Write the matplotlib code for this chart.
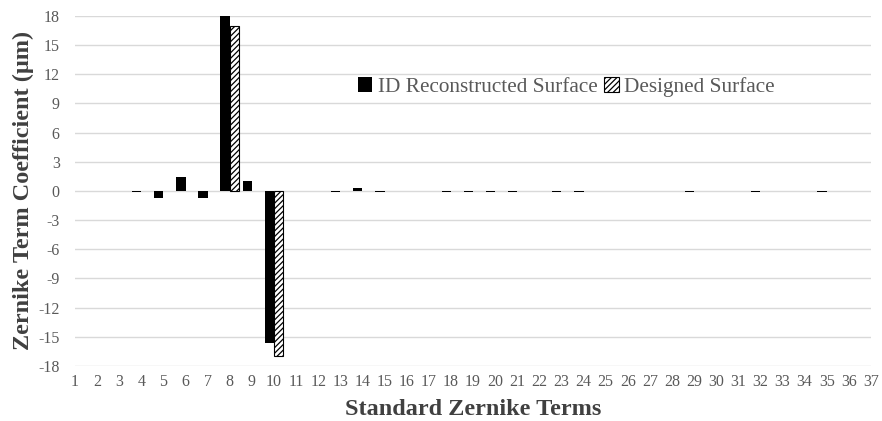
import numpy as np
import matplotlib
matplotlib.use("Agg")
import matplotlib.pyplot as plt

# Zernike term index 1..37
terms = list(range(1, 38))

# ID reconstructed surface coefficients (um)
reconstructed = {
    4: -0.15, 5: -0.7, 6: 1.4, 7: -0.7, 8: 18.0, 9: 1.0, 10: -15.7,
    13: -0.15, 14: 0.25, 15: -0.15, 18: -0.15, 19: -0.15, 20: -0.15,
    21: -0.15, 23: -0.15, 24: -0.15, 29: -0.15, 32: -0.15, 35: -0.15,
}
# designed surface coefficients (um)
designed = {8: 17.0, 10: -17.0}

y_ticks = list(range(-18, 19, 3))

# terms without a value are left empty (nan) so no outline is drawn at zero
rec_vals = np.array([reconstructed.get(t, np.nan) for t in terms])
des_vals = np.array([designed.get(t, np.nan) for t in terms])

plt.rcParams["font.family"] = ["Liberation Serif", "DejaVu Serif"]
plt.rcParams["hatch.linewidth"] = 0.9
plt.rcParams["axes.unicode_minus"] = False

fig = plt.figure(figsize=(8.82, 4.21), dpi=100)
ax = fig.add_axes([0.085, 0.131, 0.9025, 0.831])

x = np.array(terms, dtype=float)
w = 0.42
ax.bar(x - w / 2, rec_vals, width=w, color="black", linewidth=0,
       label="ID Reconstructed Surface", zorder=3)
ax.bar(x + w / 2, des_vals, width=w, color="white", edgecolor="black",
       hatch="//////", linewidth=0.8, label="Designed Surface", zorder=3)

ax.set_xlim(1, 37)
ax.set_ylim(-18, 18)
ax.set_xticks(terms)
ax.set_xticklabels([str(t) for t in terms])
ax.set_yticks(y_ticks)
ax.tick_params(axis="both", length=0, colors="#595959", labelsize=11.5)
ax.tick_params(axis="x", pad=6)
ax.tick_params(axis="y", pad=11)
ax.grid(axis="y", color="#d9d9d9", linewidth=1.0, zorder=0)
for s in ax.spines.values():
    s.set_visible(False)

ax.set_ylabel("Zernike Term Coefficient (μm)", fontsize=17.5, fontweight="bold",
              color="#404040", labelpad=3)
ax.set_xlabel("Standard Zernike Terms", fontsize=17.5, fontweight="bold",
              color="#404040", labelpad=6)

leg = ax.legend(loc="center", bbox_to_anchor=(0.617, 0.797), ncol=2,
                frameon=False, fontsize=15.3, handlelength=0.7,
                handleheight=0.7, handletextpad=0.25, columnspacing=0.3,
                labelcolor="#595959")

fig.savefig("out.png", dpi=100)
